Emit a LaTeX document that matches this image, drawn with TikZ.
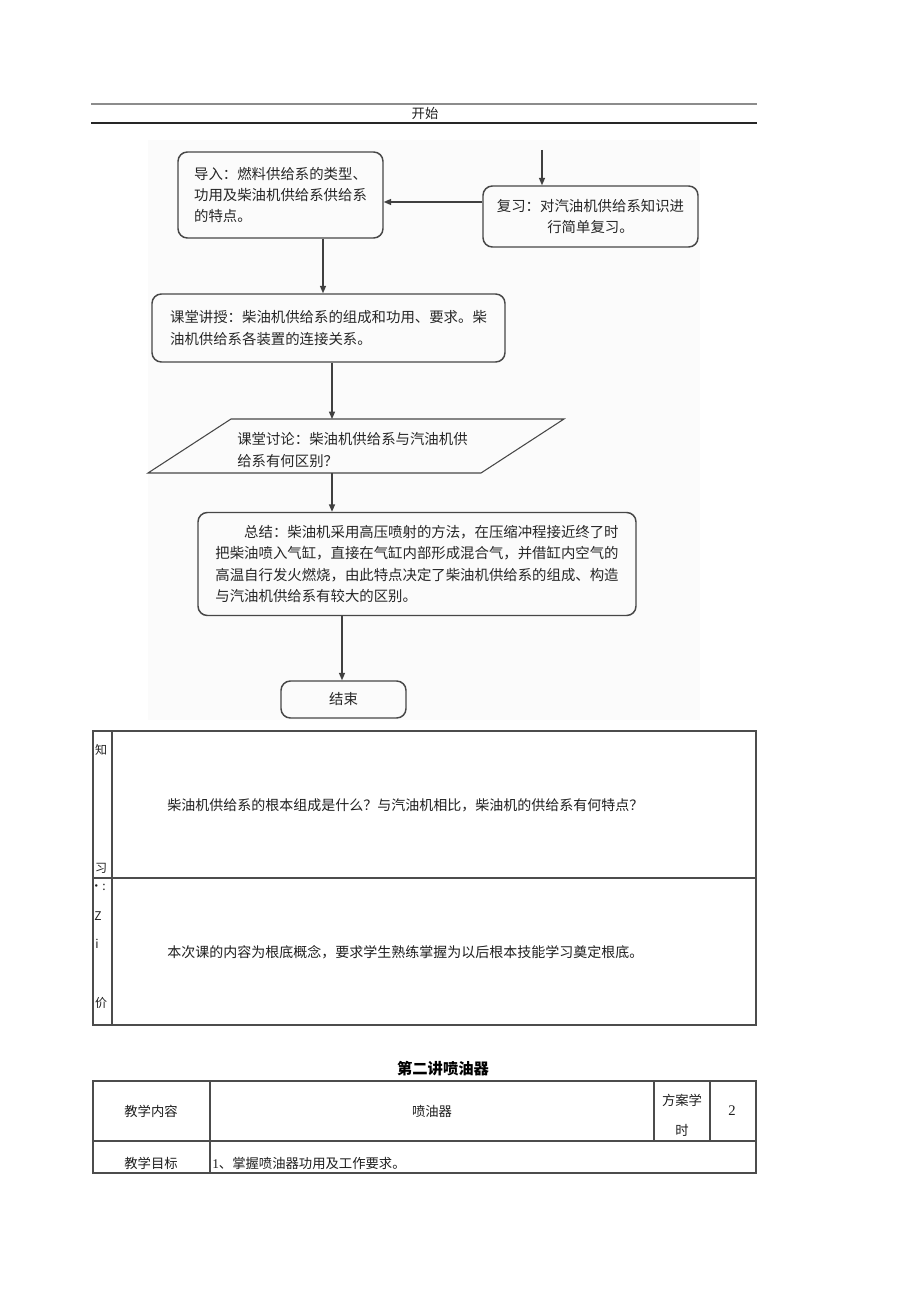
\documentclass[tikz,border=0pt]{standalone}
\usepackage{fontspec}
\setmainfont{Noto Sans CJK SC}
\newfontfamily\sernum{Liberation Serif}
\usetikzlibrary{arrows.meta}
\begin{document}
\begin{tikzpicture}[x=0.75pt,y=-0.75pt,
  fbox/.style={draw=black!72, line width=1.1pt, rounded corners=7pt, align=left, inner sep=0pt, text=black!85,
     font=\fontsize{10.8pt}{15.9pt}\selectfont},
  ftext/.style={align=left, inner sep=0pt, text=black!85, font=\fontsize{10.8pt}{15.9pt}\selectfont},
  arr/.style={draw=black!75, line width=0.9pt, -{Triangle[length=5.5pt,width=4.5pt]}},
  tline/.style={draw=black!70, line width=0.8pt},
  ttext/.style={inner sep=0pt, text=black!88, font=\fontsize{10pt}{12pt}\selectfont},
  qtext/.style={inner sep=0pt, text=black!88, font=\fontsize{10.5pt}{12pt}\selectfont},
  stext/.style={inner sep=0pt, text=black!88, font=\fontsize{9pt}{10pt}\selectfont}]
\useasboundingbox (0,0) rectangle (920,1301);
\fill[white] (0,0) rectangle (920,1301);
% header lines
\draw[draw=black!45, line width=1.1pt] (91,104) -- (757,104);
\draw[draw=black!85, line width=0.9pt] (91,123) -- (757,123);
\node[ttext] (start) at (425,113) {开始};
% flowchart background
\fill[black!1.5] (148,140) rectangle (700,720);
% boxes
\node[fbox, minimum width=153.75pt, minimum height=64.5pt] (dr) at (280.5,195)
  {导入：燃料供给系的类型、\\功用及柴油机供给系供给系\\的特点。};
\node[fbox, align=center, minimum width=161.25pt, minimum height=45.75pt] (fx) at (590.5,216.5)
  {复习：对汽油机供给系知识进\\行简单复习。};
\node[fbox, minimum width=264.75pt, minimum height=51pt] (js) at (328.5,328)
  {课堂讲授：柴油机供给系的组成和功用、要求。柴\\油机供给系各装置的连接关系。};
\coordinate (p1) at (231,419);
\coordinate (p2) at (564,419);
\coordinate (p3) at (481,473);
\coordinate (p4) at (148,473);
\draw[draw=black!72, line width=0.8pt] (p1) -- (p2) -- (p3) -- (p4) -- cycle;
\node[ftext, anchor=west] (tl) at (237,450) {课堂讨论：柴油机供给系与汽油机供\\给系有何区别？};
\node[fbox, minimum width=328.5pt, minimum height=77.25pt] (zj) at (417,564)
  {\hspace{2em}总结：柴油机采用高压喷射的方法，在压缩冲程接近终了时\\把柴油喷入气缸，直接在气缸内部形成混合气，并借缸内空气的\\高温自行发火燃烧，由此特点决定了柴油机供给系的组成、构造\\与汽油机供给系有较大的区别。};
\node[fbox, align=center, minimum width=93.75pt, minimum height=27.75pt] (end) at (343.5,699.5) {结束};
% connectors
\coordinate (top) at (542,150);
\coordinate (c1) at (323,0);
\coordinate (c2) at (332,0);
\coordinate (c3) at (342,0);
\coordinate (r1) at (0,202);
\draw[arr] (top) -- (fx.north -| top);
\draw[arr] (fx.west |- r1) -- (dr.east |- r1);
\draw[arr] (dr.south -| c1) -- (js.north -| c1);
\draw[arr] (js.south -| c2) -- (p1 -| c2);
\draw[arr] (p4 -| c2) -- (zj.north -| c2);
\draw[arr] (zj.south -| c3) -- (end.north -| c3);
% table 1
\draw[tline] (93,731) rectangle (756,1025);
\draw[tline] (112,731) -- (112,1025);
\draw[tline] (93,878) -- (756,878);
\node[stext] (k1) at (101,750) {知};
\node[stext] (k2) at (101,868) {习};
\node[qtext, anchor=west] (q1) at (167,805) {柴油机供给系的根本组成是什么？与汽油机相比，柴油机的供给系有何特点？};
\node[stext] (k3) at (98,887) {•:};
\node[stext] (k4) at (98,916) {Z};
\node[stext] (k5) at (97,944) {i};
\node[stext] (k6) at (101,1003) {价};
\node[qtext, anchor=west] (q2) at (167,952) {本次课的内容为根底概念，要求学生熟练掌握为以后根本技能学习奠定根底。};
% title
\node[inner sep=0pt, text=black, font=\fontsize{11.5pt}{13pt}\selectfont\bfseries] (title) at (443,1069) {第二讲喷油器};
% table 2
\draw[tline] (93,1081) rectangle (756,1173);
\draw[tline] (93,1141) -- (756,1141);
\draw[tline] (210,1081) -- (210,1173);
\draw[tline] (654,1081) -- (654,1141);
\draw[tline] (710,1081) -- (710,1141);
\node[ttext] (a1) at (151,1111) {教学内容};
\node[ttext] (a2) at (432,1111) {喷油器};
\node[ttext] (a3) at (682,1100) {方案学};
\node[ttext] (a4) at (682,1130) {时};
\node[ttext, font=\sernum\fontsize{11pt}{12pt}\selectfont] (a5) at (732,1111) {2};
\node[ttext] (b1) at (151,1163) {教学目标};
\node[ttext, anchor=west] (b2) at (212,1163) {{\sernum 1}、掌握喷油器功用及工作要求。};
\end{tikzpicture}
\end{document}
